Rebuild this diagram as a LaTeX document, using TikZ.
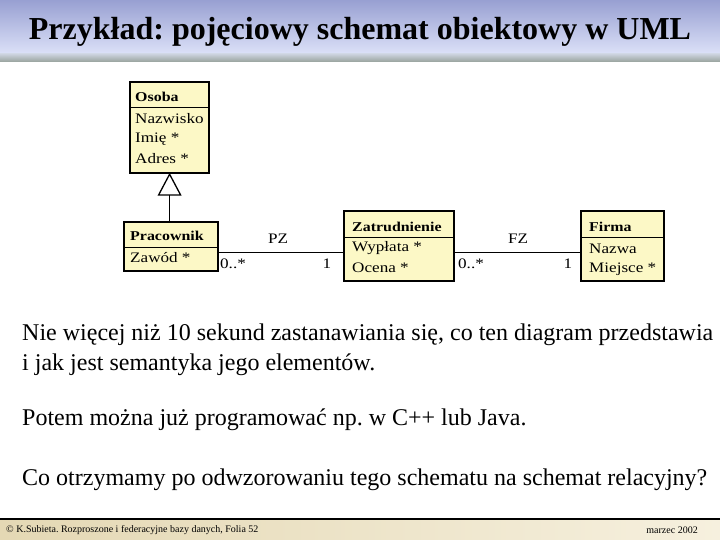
\documentclass[tikz,border=0pt]{standalone}
\usepackage{fontspec}
\setmainfont{Liberation Serif}
\newfontfamily\diagfont[FakeStretch=1.18]{Liberation Serif}
\frenchspacing
\definecolor{boxyellow}{HTML}{FCF8C6}
\definecolor{hdtop}{HTML}{98A0D2}
\definecolor{hdbot}{HTML}{DCE1F8}
\definecolor{bandtop}{HTML}{CBD2DE}
\definecolor{bandbot}{HTML}{98A29C}
\definecolor{ftleft}{HTML}{E4D8B4}
\definecolor{ftright}{HTML}{F6F0DE}
\begin{document}
\begin{tikzpicture}[x=1pt,y=-1pt,
  umlbox/.style={draw=black, line width=2.2pt, fill=boxyellow, inner sep=0pt, anchor=north west},
  divider/.style={draw=black, line width=1pt},
  attr/.style={anchor=west, inner sep=0pt, font=\diagfont\fontsize{14.5}{16}\selectfont},
  cname/.style={anchor=west, inner sep=0pt, font=\diagfont\fontsize{13.5}{16}\selectfont\bfseries},
  mult/.style={inner sep=0pt, font=\diagfont\fontsize{14.5}{16}\selectfont},
  conn/.style={draw=black, line width=1pt},
  body/.style={anchor=west, inner sep=0pt, font=\fontsize{24}{28}\selectfont\frenchspacing},
  foot/.style={inner sep=0pt, font=\fontsize{10}{11}\selectfont\frenchspacing}]
\useasboundingbox (0,0) rectangle (720,540);
% header
\shade[top color=hdtop, bottom color=hdbot] (0,0) rectangle (720,54);
\shade[top color=bandtop, bottom color=bandbot] (0,54) rectangle (720,62);
\node[inner sep=0pt, font=\fontsize{32}{36}\selectfont\bfseries\frenchspacing] (title) at (360,32) {Przykład: pojęciowy schemat obiektowy w UML};
% footer
\fill[black] (0,517.5) rectangle (720,520.5);
\shade[left color=ftleft, right color=ftright] (0,520.5) rectangle (720,540);
\node[foot, anchor=west] (footl) at (6,530) {© K.Subieta. Rozproszone i federacyjne bazy danych, Folia 52};
\node[foot, anchor=east] (footr) at (698,530) {marzec 2002};

% Osoba
\node[umlbox, minimum width=79pt, minimum height=91pt] (osoba) at (129,81) {};
\draw[divider] (osoba.west |- 0,108) -- (osoba.east |- 0,108);
\node[cname] (osobaN) at (135,97) {Osoba};
\node[attr] (osobaA1) at (135,119) {Nazwisko};
\node[attr] (osobaA2) at (135,139) {Imię *};
\node[attr] (osobaA3) at (135,159) {Adres *};

% Pracownik
\node[umlbox, minimum width=94pt, minimum height=49pt] (prac) at (123,221) {};
\draw[divider] (prac.west |- 0,247) -- (prac.east |- 0,247);
\node[cname] (pracN) at (130,236) {Pracownik};
\node[attr] (pracA1) at (130,258) {Zawód *};

% Zatrudnienie
\node[umlbox, minimum width=110pt, minimum height=70pt] (zatr) at (343,210) {};
\draw[divider] (zatr.west |- 0,237) -- (zatr.east |- 0,237);
\node[cname] (zatrN) at (352,227) {Zatrudnienie};
\node[attr] (zatrA1) at (352,248) {Wypłata *};
\node[attr] (zatrA2) at (352,268) {Ocena *};

% Firma
\node[umlbox, minimum width=83pt, minimum height=70pt] (firma) at (580,210) {};
\draw[divider] (firma.west |- 0,237) -- (firma.east |- 0,237);
\node[cname] (firmaN) at (589,227) {Firma};
\node[attr] (firmaA1) at (589,249) {Nazwa};
\node[attr] (firmaA2) at (589,269) {Miejsce *};

% generalization
\coordinate (tribase) at (osoba.south |- 0,195);
\draw[conn, line width=1.3pt, fill=white] (osoba.south) -- ([xshift=-11pt]tribase) -- ([xshift=11pt]tribase) -- cycle;
\draw[conn] (tribase) -- (tribase |- prac.north);

% associations
\coordinate (assocy) at (0,252);
\draw[conn] (prac.east |- assocy) -- (zatr.west |- assocy);
\draw[conn] (zatr.east |- assocy) -- (firma.west |- assocy);
\node[mult] (pz) at (278,239) {PZ};
\node[mult] (pzm1) at (233,264) {0..*};
\node[mult] (pzm2) at (327,264) {1};
\node[mult] (fz) at (518,239) {FZ};
\node[mult] (fzm1) at (471,264) {0..*};
\node[mult] (fzm2) at (568,264) {1};

% body text
\node[body] (t1) at (22,335) {Nie więcej niż 10 sekund zastanawiania się, co ten diagram przedstawia};
\node[body] (t2) at (22,365) {i jak jest semantyka jego elementów.};
\node[body] (t3) at (22,420) {Potem można już programować np. w C++ lub Java.};
\node[body] (t4) at (22,480) {Co otrzymamy po odwzorowaniu tego schematu na schemat relacyjny?};
\end{tikzpicture}
\end{document}
